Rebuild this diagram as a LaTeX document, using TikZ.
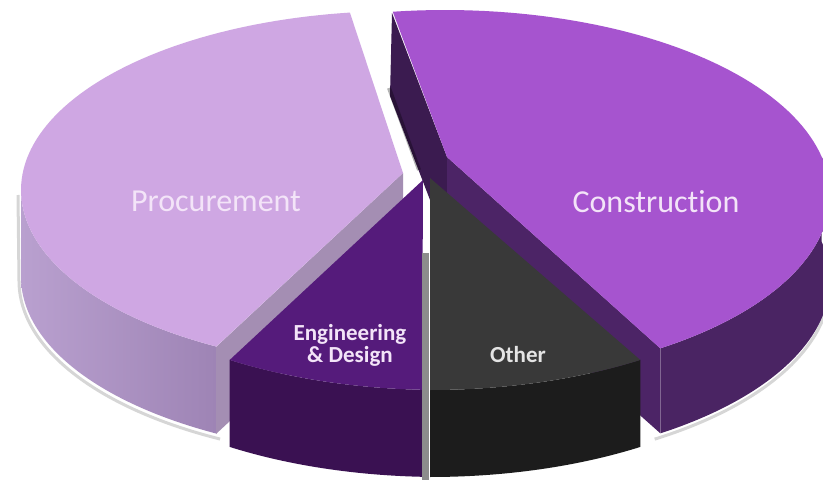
\documentclass[tikz,border=0pt]{standalone}
\usepackage{fontspec}
\setmainfont{Carlito}[Ligatures=NoCommon]
\definecolor{procTop}{HTML}{CFA7E3}
\definecolor{procSideL}{HTML}{B9A0CF}
\definecolor{procSideR}{HTML}{9E84B5}
\definecolor{procCut}{HTML}{A48EB3}
\definecolor{engTop}{HTML}{551B7B}
\definecolor{engSide}{HTML}{3A1152}
\definecolor{othTop}{HTML}{393939}
\definecolor{othSide}{HTML}{1C1C1C}
\definecolor{conTop}{HTML}{A654CF}
\definecolor{conSide}{HTML}{4A2463}
\definecolor{conCutA}{HTML}{3B1B50}
\definecolor{conCutB}{HTML}{4C2466}
\definecolor{gapc}{HTML}{8C8C8C}
\definecolor{labelc}{HTML}{F3E4F8}
\definecolor{labelo}{HTML}{E4E4E4}
\begin{document}
\begin{tikzpicture}[x=1pt,y=-1pt,
  biglabel/.style={text=labelc,font=\fontsize{32}{38}\selectfont,anchor=base,inner sep=0pt},
  smalllabel/.style={text=labelc,font=\bfseries\fontsize{23}{26}\selectfont,anchor=base,inner sep=0pt,align=center},
  shadowline/.style={black,opacity=0.16,line width=3pt},
  smp/.style={samples=90,variable=\t}]
\useasboundingbox (0,0) rectangle (823,482);
\fill[white] (0,0) rectangle (823,482);

% ---------- Construction ----------
\fill[conCutA] (392,13) -- (447,157) -- (447,244) -- (390,96) -- cycle;
\fill[conCutB] (447,157) -- (660,348) -- (660,433) -- (447,244) -- cycle;
\draw[shadowline] plot[smp,domain=-57:12] ({445+385*cos(\t)},{284-185*sin(\t)});
\fill[conSide] plot[smp,domain=12:-56] ({445+385*cos(\t)},{195-185*sin(\t)})
  -- plot[smp,domain=-56:12] ({445+385*cos(\t)},{280-185*sin(\t)}) -- cycle;
\fill[conTop] (447,157) -- plot[smp,domain=97.8:-56] ({445+385*cos(\t)},{195-185*sin(\t)}) -- cycle;
\draw[black,opacity=0.3,line width=4pt] (389,88) -- (419,170);

% ---------- Procurement ----------
\draw[shadowline] (18,195) -- plot[smp,domain=180:242] ({398+379*cos(\t)},{281-179*sin(\t)});
\shade[left color=procSideL,right color=procSideR] plot[smp,domain=180:241] ({400+379*cos(\t)},{190-179*sin(\t)})
  -- plot[smp,domain=241:180] ({400+379*cos(\t)},{277-179*sin(\t)}) -- cycle;
\fill[procCut] (403,173) -- (216,347) -- (216,434) -- (403,260) -- cycle;
\fill[procTop] (403,173) -- plot[smp,domain=97.6:241] ({400+379*cos(\t)},{190-179*sin(\t)}) -- cycle;

% ---------- Other ----------
\fill[othSide] plot[smp,domain=270:303.6] ({430+380*cos(\t)},{210-180*sin(\t)})
  -- plot[smp,domain=303.6:270] ({430+380*cos(\t)},{297-180*sin(\t)}) -- cycle;
\fill[othTop] (430,178) -- plot[smp,domain=270:303.6] ({430+380*cos(\t)},{210-180*sin(\t)}) -- cycle;

% ---------- Engineering & Design ----------
\fill[engSide] plot[smp,domain=236.4:267.3] ({440+380*cos(\t)},{210-180*sin(\t)})
  -- plot[smp,domain=267.3:236.4] ({440+380*cos(\t)},{297-180*sin(\t)}) -- cycle;
\fill[engTop] (423,180) -- plot[smp,domain=236.4:267.3] ({440+380*cos(\t)},{210-180*sin(\t)}) -- cycle;

% gap line
\fill[gapc] (422,253) rectangle (429,480);

% ---------- Labels ----------
\node[biglabel] (proc) at (216,211) {Procurement};
\node[biglabel] (cons) at (656,212) {Construction};
\node[smalllabel] (eng) at (350,340) {Engineering};
\node[smalllabel] (des) at (350,362) {\& Design};
\node[smalllabel,text=labelo] (oth) at (518,362) {Other};
\end{tikzpicture}
\end{document}
